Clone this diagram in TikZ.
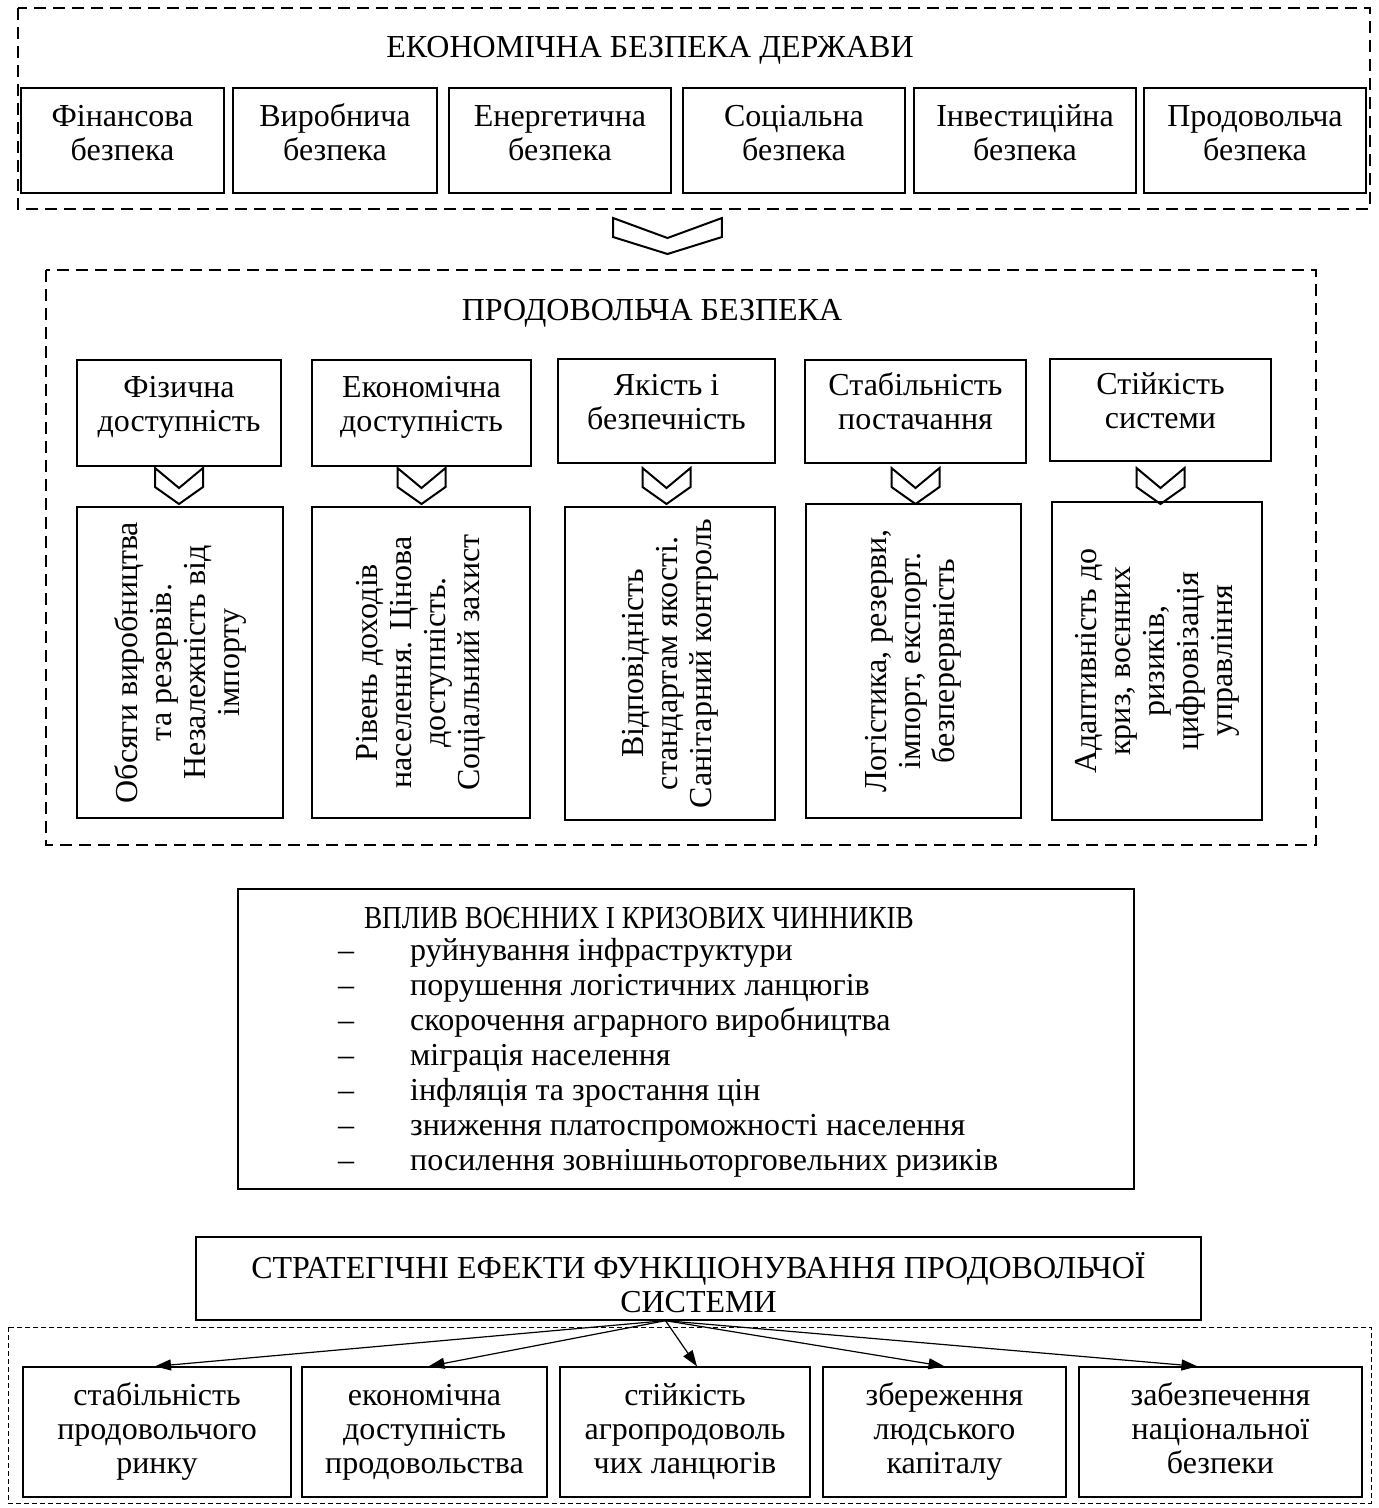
\documentclass[tikz,border=0pt]{standalone}
\usepackage{fontspec}
\setmainfont{Liberation Serif}
\usetikzlibrary{arrows.meta}

\tikzset{
  every node/.style={font=\fontsize{32}{34}\selectfont, inner sep=0pt},
  thickdash/.style={line width=2.9pt, dash pattern=on 12pt off 7pt},
  thindash/.style={line width=1pt, dash pattern=on 5pt off 3pt},
  cell/.style={draw, line width=1.3pt, align=center},
  item/.style={anchor=west, text height=22pt, text depth=8pt},
  arr/.style={line width=1.2pt, -{Triangle[length=16pt,width=11pt]}},
  chevron/.pic={\draw[line width=2pt, line join=miter] (-24,0) -- (0,-20) -- (24,0) -- (24,-19) -- (0,-36) -- (-24,-19) -- cycle;}
}
\newcommand{\up}[1][24pt]{\rule{0pt}{#1}}
\newcommand{\dn}[1][22pt]{\rule[-#1]{0pt}{0pt}}

\begin{document}
\begin{tikzpicture}[x=1pt,y=1pt,yscale=-1]
\useasboundingbox (0,0) rectangle (1379,1508);

% economic security of the state
\draw[thickdash] (18,8) rectangle (1370,209);
\node (econ) at (650,50) {ЕКОНОМІЧНА БЕЗПЕКА ДЕРЖАВИ};
\foreach \l/\r/\t [count=\i] in {21/224/Фінансова, 233/437/Виробнича, 449/671/Енергетична, 683/905/Соціальна, 914/1136/Інвестиційна, 1144/1366/Продовольча}
  \node[cell, minimum width=\r-\l, minimum height=105] (sec\i) at ({(\l+\r)/2},140.5) {\up\t\\безпека\dn[19pt]};

\pic[xscale=2.27] at (667.5,218) {chevron};

% food security
\draw[thickdash] (46,270) rectangle (1316,845);
\node (food) at (652,313) {ПРОДОВОЛЬЧА БЕЗПЕКА};
\foreach \l/\r/\t/\b/\txt [count=\i] in {77/281/360/466/{Фізична\\доступність}, 312/531/360/466/{Економічна\\доступність}, 558/775/359/463/{Якість і\\безпечність}, 805/1026/360/463/{Стабільність\\постачання}, 1050/1271/359/461/{Стійкість\\системи}}
  \node[cell, minimum width=\r-\l, minimum height=\b-\t] (dim\i) at ({(\l+\r)/2},{(\t+\b)/2}) {\up\txt\dn};

\foreach \l/\r/\t/\b/\txt [count=\i] in {77/283/507/818/{Обсяги виробництва\\та резервів.\\Незалежність від\\імпорту}, 312/530/507/818/{Рівень доходів\\населення. Цінова\\доступність.\\Соціальний захист}, 565/775/507/820/{Відповідність\\стандартам якості.\\Санітарний контроль}, 806/1021/504/818/{Логістика, резерви,\\імпорт, експорт.\\безперервність}, 1052/1262/502/820/{Адаптивність до\\криз, воєнних\\ризиків,\\цифровізація\\управління}}
  \node[cell, rotate=90, minimum width=\b-\t, minimum height=\r-\l] (ind\i) at ({(\l+\r)/2},{(\t+\b)/2}) {\txt};

\foreach \i in {1,...,5}
  \pic at (dim\i.south |- {(0,468)}) {chevron};

% war and crisis factors
\node[cell, minimum width=896, minimum height=300] (war) at (686,1039) {};
\node (wart) at (639,918) {\scalebox{0.85}[1]{ВПЛИВ ВОЄННИХ І КРИЗОВИХ ЧИННИКІВ}};
\foreach \t [count=\i from 0] in {руйнування інфраструктури, порушення логістичних ланцюгів, скорочення аграрного виробництва, міграція населення, інфляція та зростання цін, зниження платоспроможності населення, посилення зовнішньоторговельних ризиків}
{
  \node[item] (dash\i) at (338,{953+35*\i}) {–};
  \node[item] (fac\i) at (410,{953+35*\i}) {\t};
}

% strategic effects
\draw[thindash] (8,1327) rectangle (1371,1503);
\node[cell, minimum width=1005, minimum height=83] (strat) at (698.5,1278.5) {\up[40pt]СТРАТЕГІЧНІ ЕФЕКТИ ФУНКЦІОНУВАННЯ ПРОДОВОЛЬЧОЇ\\СИСТЕМИ\dn[6pt]};
\coordinate (hub) at ([xshift=-33pt]strat.south);
\foreach \l/\r/\txt [count=\i] in {23/291/{стабільність\\продовольчого\\ринку}, 302/547/{економічна\\доступність\\продовольства}, 560/810/{стійкість\\агропродоволь\\чих ланцюгів}, 823/1066/{збереження\\людського\\капіталу}, 1079/1362/{забезпечення\\національної\\безпеки}}
  \node[cell, minimum width=\r-\l, minimum height=130] (eff\i) at ({(\l+\r)/2},1432) {\up\txt\dn[10pt]};

\foreach \i/\dx in {1/-2,2/4,3/12,4/0,5/-23}
  \draw[arr] (hub) -- ([xshift=\dx pt]eff\i.north);

\end{tikzpicture}
\end{document}
